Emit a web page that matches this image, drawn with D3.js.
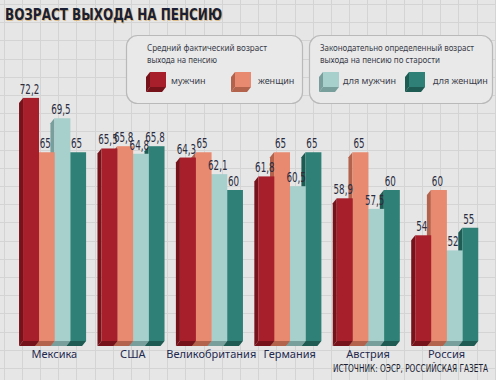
<!DOCTYPE html>
<html><head><meta charset="utf-8">
<script src="https://cdn.jsdelivr.net/npm/d3@7"></script>
<style>html,body{margin:0;padding:0;background:#e6e6e6;}svg{display:block;}</style>
</head><body>
<svg id="chart" width="496" height="380"></svg>
<script>
const countries = ["Мексика","США","Великобритания","Германия","Австрия","Россия"];
const seriesNames = ["мужчин","женщин","для мужчин","для женщин"];
const menActual   = [72.2, 65.5, 64.3, 61.8, 58.9, 54];
const womenActual = [65,   65.8, 65,   65,   65,   60];
const menLegal    = [69.5, 64.8, 62.1, 60.5, 57.5, 52];
const womenLegal  = [65,   65.8, 60,   65,   60,   55];
const legendTitle1 = ["Средний фактический возраст","выхода на пенсию"];
const legendTitle2 = ["Законодательно определенный возраст","выхода на пенсию по старости"];
const titleText = "ВОЗРАСТ ВЫХОДА НА ПЕНСИЮ";
const sourceText = "ИСТОЧНИК: ОЭСР, РОССИЙСКАЯ ГАЗЕТА";
const yDomain = [40, 75];

const series = [menActual, womenActual, menLegal, womenLegal];
const front = ["#a61f2b","#e88a6f","#a7d0cd","#2f8177"];
const side  = ["#76121a","#b3624c","#789f9c","#1d5b53"];
const W = 496, H = 380;
const DX = -4, DY = 5;

const svg = d3.select("#chart");
svg.append("rect").attr("width",W).attr("height",H).attr("fill","#e6e6e6");
const grid = svg.append("g").attr("stroke","#d4d4d4").attr("stroke-width",1);
for (let gx = 3.5; gx < W; gx += 18.2) grid.append("line").attr("x1",Math.round(gx)+0.5).attr("x2",Math.round(gx)+0.5).attr("y1",0).attr("y2",H);
for (let gy = 4; gy < H; gy += 18.2) grid.append("line").attr("y1",Math.round(gy)+0.5).attr("y2",Math.round(gy)+0.5).attr("x1",0).attr("x2",W);

svg.append("text").attr("x",6).attr("y",21).text(titleText)
  .attr("font-family","DejaVu Sans Condensed, DejaVu Sans").attr("font-weight","bold")
  .attr("font-size",15.5).attr("fill","#d8a34e").attr("opacity",0.6)
  .attr("textLength",217).attr("lengthAdjust","spacingAndGlyphs");
svg.append("text").attr("x",5).attr("y",20).text(titleText)
  .attr("font-family","DejaVu Sans Condensed, DejaVu Sans").attr("font-weight","bold")
  .attr("font-size",15.5).attr("fill","#1b1f33")
  .attr("textLength",217).attr("lengthAdjust","spacingAndGlyphs");

function cube(g, x, y, w, h, fc, sc) {
  g.append("polygon").attr("points",[[x,y],[x+DX,y+DY],[x+DX,y+h+DY],[x,y+h]].join(" ")).attr("fill",sc);
  g.append("polygon").attr("points",[[x,y+h],[x+w,y+h],[x+w+DX,y+h+DY],[x+DX,y+h+DY]].join(" ")).attr("fill",sc);
  g.append("rect").attr("x",x).attr("y",y).attr("width",w).attr("height",h).attr("fill",fc);
}
const lg = svg.append("g");
const legendFont = "Noto Sans, DejaVu Sans";
[[126,176,legendTitle1,147,[120,70]],[309,183,legendTitle2,320,[154,120]]].forEach(([bx,bw,lines,tx,lens]) => {
  lg.append("rect").attr("x",bx+0.5).attr("y",35.5).attr("width",bw).attr("height",68).attr("rx",11)
    .attr("fill","#e9e9e9").attr("stroke","#b9b9b9").attr("stroke-width",1.2);
  lines.forEach((t,i) => lg.append("text").attr("x",tx).attr("y",51+i*11.5).text(t)
    .attr("font-family",legendFont).attr("font-size",9).attr("fill","#3a3d4a")
    .attr("textLength",lens[i]).attr("lengthAdjust","spacingAndGlyphs"));
});
const swX = [150,235,323,409], labX = [171,258,343,433];
seriesNames.forEach((n,i) => {
  cube(lg, swX[i], 72, 16, 15, front[i], side[i]);
  lg.append("text").attr("x",labX[i]).attr("y",84).text(n)
    .attr("font-family",legendFont).attr("font-size",9).attr("fill","#3a3d4a");
});

const x0 = d3.scaleBand().domain(countries).range([15.2, 485.8]).paddingInner(0.2).paddingOuter(0.1);
const x1 = d3.scaleBand().domain(d3.range(series.length)).range([0, x0.bandwidth()]);
const y = d3.scaleLinear().domain(yDomain).range([341, 341 - 35*7.55]);
const fmt = v => String(v).replace(".", ",");

const bars = svg.append("g");
const labels = svg.append("g");
countries.forEach((c, ci) => {
  const g = bars.append("g");
  for (let si = series.length - 1; si >= 0; si--) {
    const v = series[si][ci];
    const x = x0(c) + x1(si), w = x1.bandwidth() + 0.3;
    const top = y(v), base = y(yDomain[0]);
    cube(g, x, top, w, base - top, front[si], side[si]);
    labels.append("text")
      .attr("transform", `translate(${x + w/2 - 1.5},${top - 4}) scale(0.72,1)`)
      .attr("text-anchor","middle").text(fmt(v))
      .attr("font-family","DejaVu Sans Condensed, DejaVu Sans").attr("font-size",13.5).attr("fill","#2b2d3f");
  }
  svg.append("text").attr("x", x0(c) + x0.bandwidth()/2).attr("y", 358).attr("text-anchor","middle")
    .text(c).attr("font-family",legendFont).attr("font-size",11).attr("fill","#1f2a50");
});

svg.append("text").attr("transform","translate(488,372) scale(0.82,1)").attr("text-anchor","end").text(sourceText)
  .attr("font-family","DejaVu Sans Condensed, DejaVu Sans").attr("font-size",10).attr("fill","#1b1f33");
</script>
</body></html>
